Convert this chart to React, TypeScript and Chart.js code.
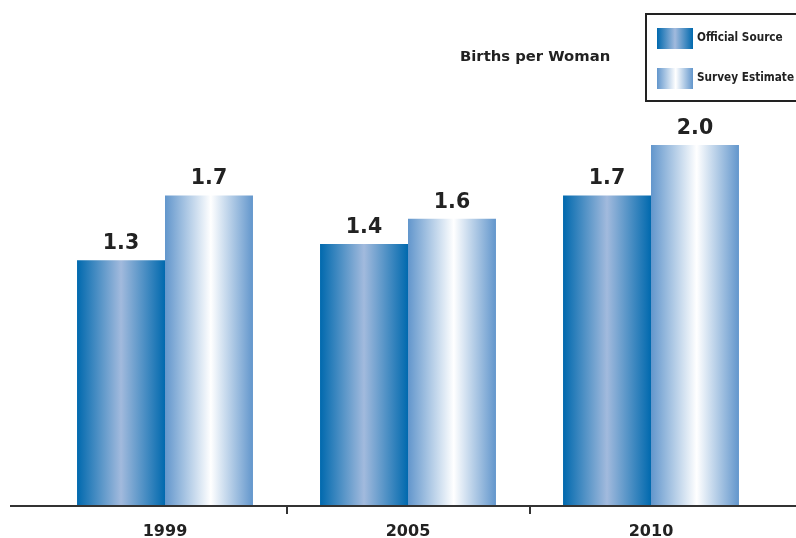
import React, { useEffect, useRef } from "react";
import { Chart, registerables } from "chart.js";

Chart.register(...registerables);

const categories = ["1999", "2005", "2010"];
const seriesNames = ["Official Source", "Survey Estimate"];
const officialValues = [1.36, 1.45, 1.72];
const surveyValues = [1.72, 1.59, 2.0];
const officialLabels = ["1.3", "1.4", "1.7"];
const surveyLabels = ["1.7", "1.6", "2.0"];
const chartTitle = "Births per Woman";

const CAT_PCT = 0.724;

function makeGrad(c: CanvasRenderingContext2D, left: number, width: number, kind: number) {
  const g = c.createLinearGradient(left, 0, left + width, 0);
  if (kind === 0) {
    g.addColorStop(0, "#0069ae");
    g.addColorStop(0.5, "#a2badd");
    g.addColorStop(1, "#0069ae");
  } else {
    g.addColorStop(0, "#6296cc");
    g.addColorStop(0.52, "#ffffff");
    g.addColorStop(1, "#6296cc");
  }
  return g;
}

function barGradient(ctx: any) {
  const chart = ctx.chart;
  const x = chart.scales && chart.scales.x;
  const kind = ctx.datasetIndex;
  const fallback = kind === 0 ? "#3b7fbf" : "#a8c4e4";
  if (!x || !chart.chartArea || ctx.dataIndex === undefined) return fallback;
  const center = x.getPixelForValue(ctx.dataIndex);
  const catW = x.width / categories.length;
  const bw = (catW * CAT_PCT) / 2;
  const left = kind === 0 ? center - bw : center;
  return makeGrad(chart.ctx, left, bw, kind);
}

const decorPlugin = {
  id: "decor",
  afterDatasetsDraw(chart: any) {
    const c: CanvasRenderingContext2D = chart.ctx;
    const x = chart.scales.x;
    const area = chart.chartArea;
    const W = chart.width;
    c.save();
    // baseline
    c.strokeStyle = "#333333";
    c.lineWidth = 2;
    c.beginPath();
    c.moveTo(10, area.bottom + 1);
    c.lineTo(W, area.bottom + 1);
    c.stroke();
    // ticks between categories
    const catW = x.width / categories.length;
    for (let i = 0; i < categories.length - 1; i++) {
      const px = Math.round(x.getPixelForValue(i) + catW / 2);
      c.beginPath();
      c.moveTo(px, area.bottom + 1);
      c.lineTo(px, area.bottom + 9);
      c.stroke();
    }
    // category labels
    c.fillStyle = "#222222";
    c.font = "bold 16px 'DejaVu Sans'";
    c.textAlign = "center";
    c.textBaseline = "alphabetic";
    categories.forEach((cat, i) => {
      c.fillText(cat, x.getPixelForValue(i), area.bottom + 31);
    });
    // value labels
    c.font = "bold 20.5px 'DejaVu Sans'";
    const lbls = [officialLabels, surveyLabels];
    [0, 1].forEach((d) => {
      const meta = chart.getDatasetMeta(d);
      meta.data.forEach((el: any, i: number) => {
        c.fillText(lbls[d][i], el.x, el.y - 11);
      });
    });
    // title
    c.font = "bold 14.8px 'DejaVu Sans'";
    c.textAlign = "left";
    c.textBaseline = "middle";
    c.fillText(chartTitle, 460, 57);
    // legend box
    c.strokeStyle = "#222222";
    c.lineWidth = 2;
    c.strokeRect(646, 14, W - 646 + 4, 87);
    const rows = [38, 78];
    seriesNames.forEach((n, i) => {
      c.fillStyle = makeGrad(c, 657, 36, i);
      c.fillRect(657, rows[i] - 10, 36, 21);
      c.fillStyle = "#222222";
      c.font = "bold 11.7px 'DejaVu Sans Condensed'";
      c.fillText(n, 697, rows[i]);
    });
    c.restore();
  },
};

export default function App() {
  const ref = useRef<HTMLCanvasElement | null>(null);
  useEffect(() => {
    document.body.style.margin = "0";
    const canvas = ref.current!;
    const chart = new Chart(canvas, {
      type: "bar",
      data: {
        labels: categories,
        datasets: [
          { label: seriesNames[0], data: officialValues, backgroundColor: barGradient as any },
          { label: seriesNames[1], data: surveyValues, backgroundColor: barGradient as any },
        ],
      },
      options: {
        responsive: false,
        animation: false,
        maintainAspectRatio: false,
        layout: { padding: { left: 43.5, right: 23.5, top: 55, bottom: 33 } },
        datasets: { bar: { barPercentage: 1, categoryPercentage: CAT_PCT, borderWidth: 0 } },
        scales: {
          x: { display: false },
          y: { display: false, min: 0, max: 2.5 },
        },
        plugins: { legend: { display: false }, tooltip: { enabled: false }, title: { display: false } },
      },
      plugins: [decorPlugin],
    });
    return () => chart.destroy();
  }, []);
  return (
    <div style={{ position: "absolute", left: 0, top: 0, width: 796, height: 538, background: "#fff" }}>
      <canvas ref={ref} width={796} height={538} style={{ display: "block" }} />
    </div>
  );
}
